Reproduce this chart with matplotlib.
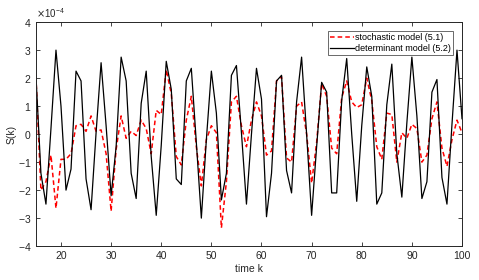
import numpy as np
import matplotlib
matplotlib.use("Agg")
import matplotlib.pyplot as plt
from matplotlib.ticker import ScalarFormatter

plt.rcParams["font.family"] = ["Liberation Sans", "DejaVu Sans"]

# values in units of 1e-4, read at k = 15..100
k = np.arange(15, 101)

determinant = [
    2.1, -1.4, -2.5, 0.2, 3.0, 1.0, -2.0, -1.25, 2.25, 1.9,
    -1.6, -2.7, 0.05, 2.55, 0.3, -2.2, -0.45, 2.75, 1.9, -1.4,
    -2.3, 1.1, 2.25, -0.8, -2.9, -0.4, 2.6, 1.6, -1.6, -1.8,
    1.9, 2.35, -0.3, -3.0, -0.2, 2.25, 0.75, -2.35, -1.4, 2.1,
    2.45, 0.05, -2.5, 0.0, 2.35, 1.25, -2.95, -1.4, 1.9, 2.1,
    -1.3, -2.1, 1.15, 2.75, 0.0, -2.9, -0.45, 1.85, 1.5, -2.1,
    -2.1, 1.2, 2.7, 0.0, -2.4, 0.3, 2.4, 1.35, -2.5, -2.1,
    1.05, 2.5, -0.7, -2.25, 0.4, 2.75, 0.65, -2.3, -1.7, 1.5,
    1.95, -1.55, -2.5, 0.35, 3.0, 0.55,
]

stochastic = [
    2.05, -2.0, -1.7, -0.75, -2.65, -0.9, -0.9, -0.7, 0.3, 0.35,
    0.1, 0.65, 0.1, 0.15, -0.7, -2.75, -0.55, 0.65, -0.15, 0.1,
    -0.05, 0.5, 0.2, -0.7, 0.85, 0.7, 2.3, 1.45, -0.8, -1.1,
    0.5, 1.35, -0.45, -1.85, -0.2, 0.3, 0.05, -3.35, -1.7, 1.15,
    1.35, 0.3, -0.45, 0.5, 1.15, 0.65, -0.75, -0.6, 1.9, 2.05,
    -0.85, -1.0, 1.0, 1.15, 0.0, -1.75, -0.3, 1.8, 1.35, -0.5,
    -0.7, 1.3, 1.9, 1.15, 0.95, 1.05, 2.0, 1.2, -0.45, -0.9,
    0.75, 0.7, -1.0, 0.05, -0.15, 0.35, 0.2, -1.0, -0.75, 0.55,
    1.15, -0.5, -1.15, -0.2, 0.5, 0.05,
]

scale = 1e-4
x_ticks = [20, 30, 40, 50, 60, 70, 80, 90, 100]
y_ticks = [-4, -3, -2, -1, 0, 1, 2, 3, 4]

fig = plt.figure(figsize=(4.79, 2.8), dpi=100)
ax = fig.add_axes([0.075, 0.121, 0.8895, 0.8])

ax.plot(k, np.array(stochastic) * scale, "--", color="#ff0000", linewidth=1.1,
        dashes=(3, 2), label="stochastic model (5.1)")
ax.plot(k, np.array(determinant) * scale, "-", color="black", linewidth=0.9,
        label="determinant model (5.2)")

ax.set_xlim(15, 100)
ax.set_ylim(-4 * scale, 4 * scale)
ax.set_xticks(x_ticks)
ax.set_yticks(np.array(y_ticks) * scale)

fmt = ScalarFormatter(useMathText=True)
fmt.set_powerlimits((0, 0))
ax.yaxis.set_major_formatter(fmt)
ax.yaxis.get_offset_text().set_fontsize(7)
ax.yaxis.get_offset_text().set_color("#262626")

ax.tick_params(direction="in", top=True, right=True, labelsize=7.5,
               colors="#262626", length=3, width=0.6)
for spine in ax.spines.values():
    spine.set_color("#262626")
    spine.set_linewidth(0.7)

ax.set_xlabel("time k", fontsize=7.5, color="#262626", labelpad=2)
ax.set_ylabel("S(k)", fontsize=7.5, color="#262626", labelpad=1)

leg = ax.legend(loc="upper right", fontsize=6.5, frameon=True, fancybox=False,
                edgecolor="#262626", borderpad=0.25, handlelength=2.6,
                handletextpad=0.1, labelspacing=0.15, borderaxespad=1.0)
leg.get_frame().set_linewidth(0.6)

fig.savefig("out.png", dpi=100)
